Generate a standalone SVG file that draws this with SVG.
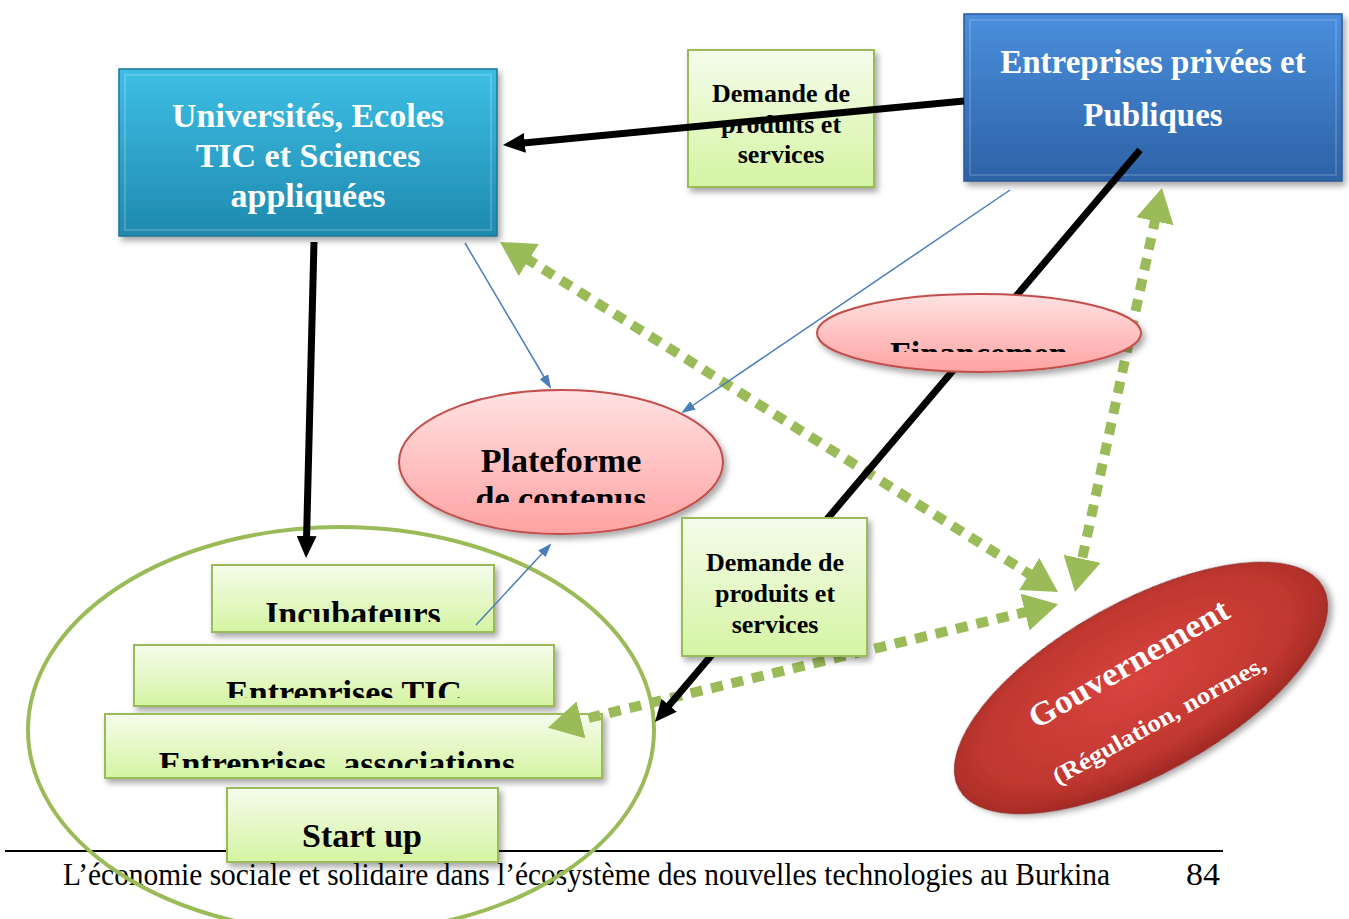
<svg xmlns="http://www.w3.org/2000/svg" width="1349" height="919" viewBox="0 0 1349 919">
<style>
.wt{font-family:"Liberation Serif","Times New Roman",serif;font-weight:bold;fill:#fff;text-anchor:middle}
.bk{font-family:"Liberation Serif","Times New Roman",serif;font-weight:bold;fill:#000;text-anchor:middle}
.gbox{fill:url(#gGreen);stroke:#9bbb59;stroke-width:2}
.pink{fill:url(#gPink);stroke:#c0504d;stroke-width:2}
.gdot{fill:none;stroke:#9bbb59;stroke-width:10;stroke-dasharray:12 9}
.blk{fill:none;stroke:#000;stroke-width:7}
.blu{fill:none;stroke:#4a7ebb;stroke-width:1.5}
.foot{font-family:"Liberation Serif","Times New Roman",serif;fill:#000}
</style>
<defs>
<linearGradient id="gGreen" x1="0" y1="0" x2="0" y2="1"><stop offset="0" stop-color="#f5fcec"/><stop offset="1" stop-color="#d5f4a2"/></linearGradient>
<linearGradient id="gPink" x1="0" y1="0" x2="0" y2="1"><stop offset="0" stop-color="#ffe2e2"/><stop offset="1" stop-color="#ffa2a2"/></linearGradient>
<linearGradient id="gTeal" x1="0" y1="0" x2="0" y2="1"><stop offset="0" stop-color="#3ebfe6"/><stop offset="1" stop-color="#1f89ae"/></linearGradient>
<linearGradient id="gBlue" x1="0" y1="0" x2="0" y2="1"><stop offset="0" stop-color="#4a8fdd"/><stop offset="1" stop-color="#2d62a6"/></linearGradient>
<radialGradient id="gRed" cx="0.5" cy="0.45" r="0.6"><stop offset="0" stop-color="#d9443f"/><stop offset="0.7" stop-color="#c0372f"/><stop offset="1" stop-color="#962420"/></radialGradient>
<filter id="sh" x="-10%" y="-10%" width="130%" height="140%"><feDropShadow dx="3" dy="4" stdDeviation="3" flood-color="#000" flood-opacity="0.35"/></filter>
<marker id="ga" viewBox="0 0 34 38" refX="4" refY="19" markerWidth="34" markerHeight="38" markerUnits="userSpaceOnUse" orient="auto-start-reverse"><path d="M0,0 L34,19 L0,38 z" fill="#9bbb59"/></marker>
<marker id="ba" viewBox="0 0 22 20" refX="4" refY="10" markerWidth="22" markerHeight="20" markerUnits="userSpaceOnUse" orient="auto"><path d="M0,0 L22,10 L0,20 z" fill="#000"/></marker>
<marker id="bl" viewBox="0 0 14 10" refX="12" refY="5" markerWidth="14" markerHeight="10" markerUnits="userSpaceOnUse" orient="auto"><path d="M0,0 L14,5 L0,10 z" fill="#4a7ebb"/></marker>
<clipPath id="cInc"><rect x="212" y="565" width="282" height="57"/></clipPath>
<clipPath id="cTic"><rect x="134" y="645" width="420" height="53"/></clipPath>
<clipPath id="cAss"><rect x="105" y="714" width="497" height="54"/></clipPath>
<clipPath id="cFin"><rect x="860" y="320" width="206" height="32"/></clipPath>
<clipPath id="cPla"><rect x="420" y="480" width="280" height="23"/></clipPath>
</defs>
<rect width="1349" height="919" fill="#fff"/>

<g id="footer">
<line x1="5" y1="851" x2="1223" y2="851" stroke="#000" stroke-width="2"/>
<text class="foot" x="63" y="885" font-size="31" textLength="1047" lengthAdjust="spacingAndGlyphs">L’économie sociale et solidaire dans l’écosystème des nouvelles technologies au Burkina</text>
<text class="foot" x="1186" y="885" font-size="31" textLength="34" lengthAdjust="spacingAndGlyphs">84</text>
</g>

<g id="incubateurs">
<rect class="gbox" x="212" y="565" width="282" height="67" filter="url(#sh)"/>
<text class="bk" x="353" y="625" font-size="34" clip-path="url(#cInc)">Incubateurs</text>
</g>
<g id="entreprises-tic">
<rect class="gbox" x="134" y="645" width="420" height="61" filter="url(#sh)"/>
<text class="bk" x="344" y="704" font-size="34" clip-path="url(#cTic)">Entreprises TIC</text>
</g>
<g id="entreprises-associations">
<rect class="gbox" x="105" y="714" width="497" height="64" filter="url(#sh)"/>
<text class="bk" x="337" y="775" font-size="34" clip-path="url(#cAss)">Entreprises, associations</text>
</g>
<g id="start-up">
<rect class="gbox" x="227" y="788" width="271" height="74" filter="url(#sh)"/>
<text class="bk" x="362" y="847" font-size="34">Start up</text>
</g>
<g id="ecosysteme">
<ellipse cx="341" cy="730" rx="313" ry="203" fill="none" stroke="#9bbb59" stroke-width="4"/>
</g>

<g id="demande-haut">
<rect class="gbox" x="688" y="50" width="186" height="137" filter="url(#sh)"/>
<text class="bk" x="781" y="102" font-size="26">Demande de</text>
<text class="bk" x="781" y="133" font-size="26">produits et</text>
<text class="bk" x="781" y="163" font-size="26">services</text>
</g>

<g id="entreprises">
<rect x="964" y="14" width="378" height="167" fill="url(#gBlue)" stroke="#2a5a98" stroke-width="1.5" filter="url(#sh)"/>
<rect x="970" y="20" width="366" height="155" fill="none" stroke="#ffffff" stroke-opacity="0.15" stroke-width="2"/>
<text class="wt" x="1153" y="73" font-size="33">Entreprises privées et</text>
<text class="wt" x="1153" y="126" font-size="33">Publiques</text>
</g>

<g id="connectors">
<path class="gdot" d="M525.4,257.9 L1032.6,576.1" marker-start="url(#ga)" marker-end="url(#ga)"/>
<path class="gdot" d="M1155.7,217.3 L1081.3,562.7" marker-start="url(#ga)" marker-end="url(#ga)"/>
<path class="gdot" d="M1028.9,611.2 L577.1,720.8" marker-start="url(#ga)" marker-end="url(#ga)"/>
<path class="blk" d="M964,101 L520.9,143.3" marker-end="url(#ba)"/>
<path class="blk" d="M314,242 L306.5,540" marker-end="url(#ba)"/>
<path class="blk" d="M1140,150 L666.6,708.3" marker-end="url(#ba)"/>
<path class="blu" d="M465,243 L550,387" marker-end="url(#bl)"/>
<path class="blu" d="M1010,190 L683,412" marker-end="url(#bl)"/>
<path class="blu" d="M476,625 L550,545" marker-end="url(#bl)"/>
</g>

<g id="universites">
<rect x="119" y="69" width="378" height="167" fill="url(#gTeal)" stroke="#1b7596" stroke-width="1.5" filter="url(#sh)"/>
<rect x="125" y="75" width="366" height="155" fill="none" stroke="#ffffff" stroke-opacity="0.18" stroke-width="2"/>
<text class="wt" x="308" y="127" font-size="34">Universités, Ecoles</text>
<text class="wt" x="308" y="167" font-size="34">TIC et Sciences</text>
<text class="wt" x="308" y="207" font-size="34">appliquées</text>
</g>

<g id="financement">
<ellipse class="pink" cx="979" cy="333" rx="162" ry="39" filter="url(#sh)"/>
<text class="bk" x="890" y="365" font-size="34" style="text-anchor:start" clip-path="url(#cFin)">Financement</text>
</g>

<g id="plateforme">
<ellipse class="pink" cx="561" cy="462" rx="162" ry="72" filter="url(#sh)"/>
<text class="bk" x="561" y="472" font-size="34">Plateforme</text>
<text class="bk" x="561" y="510" font-size="34" clip-path="url(#cPla)">de contenus</text>
</g>

<g id="demande-bas">
<rect class="gbox" x="682" y="518" width="185" height="138" filter="url(#sh)"/>
<text class="bk" x="775" y="571" font-size="26">Demande de</text>
<text class="bk" x="775" y="602" font-size="26">produits et</text>
<text class="bk" x="775" y="633" font-size="26">services</text>
</g>

<g id="gouvernement">
<ellipse cx="1141" cy="688" rx="208" ry="86" transform="rotate(-29 1141 688)" fill="url(#gRed)" stroke="#8a2a28" stroke-width="1" filter="url(#sh)"/>
<text class="wt" x="1134" y="673" font-size="33" textLength="226" lengthAdjust="spacingAndGlyphs" transform="rotate(-30 1134 673)">Gouvernement</text>
<text class="wt" x="1163" y="727" font-size="24" textLength="240" lengthAdjust="spacingAndGlyphs" transform="rotate(-29 1163 727)">(Régulation, normes,</text>
</g>
</svg>
